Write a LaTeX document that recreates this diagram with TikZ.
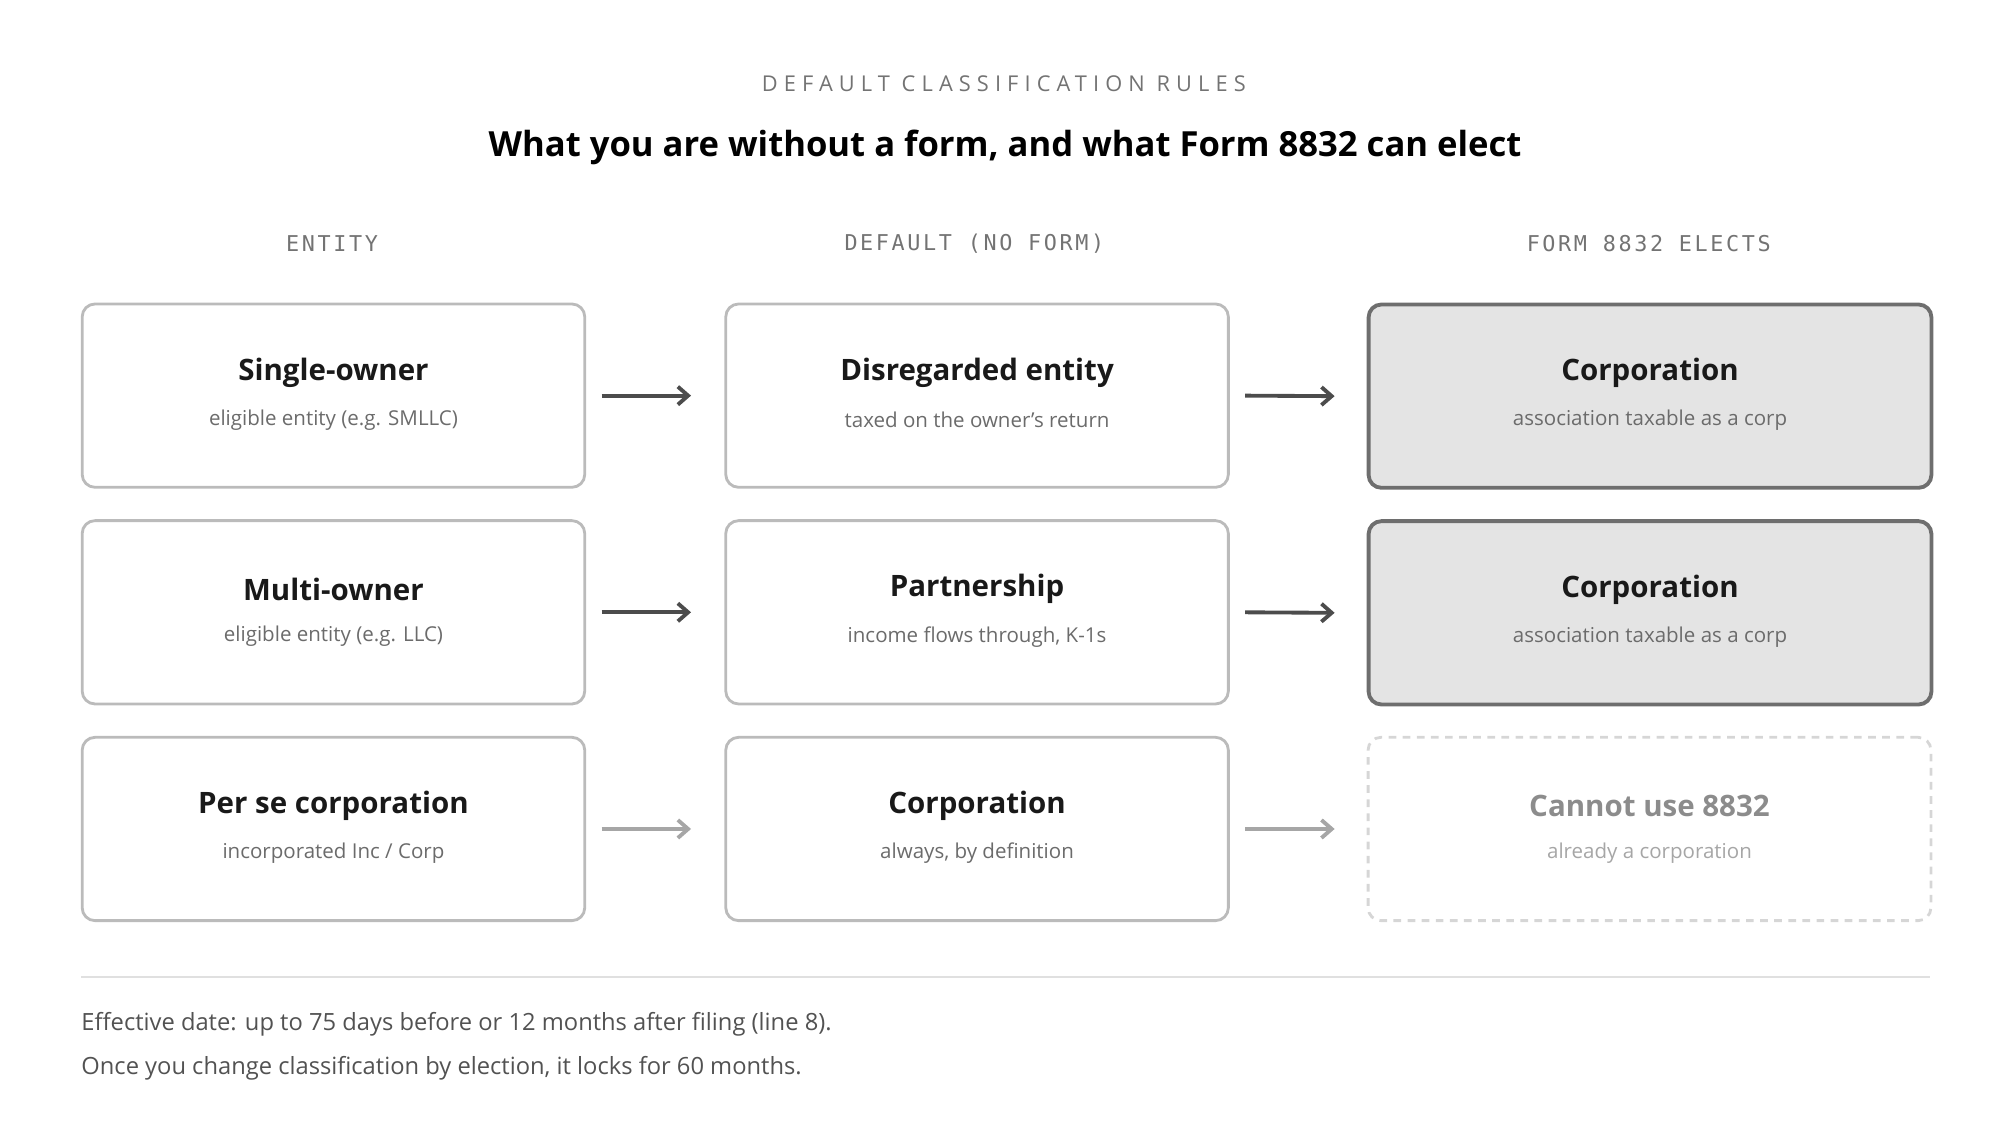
\documentclass[tikz,border=0pt]{standalone}
\usepackage{fontspec}
\setmainfont{Open Sans}
\newfontfamily\monof{DejaVu Sans Mono}[LetterSpace=12]
\newfontfamily\capsf{Open Sans}[LetterSpace=28]
\usetikzlibrary{arrows.meta}
\definecolor{bd}{HTML}{BBBBBB}
\definecolor{bdk}{HTML}{6E6E6E}
\definecolor{fillg}{HTML}{E4E4E4}
\definecolor{sub}{HTML}{6B6B6B}
\begin{document}
\begin{tikzpicture}[x=1pt,y=-1pt,
 box/.style={draw=bd,line width=2.2pt,rounded corners=10pt,minimum width=392pt,minimum height=143pt,anchor=north west,inner sep=0pt},
 dark/.style={draw=bdk,line width=3pt,fill=fillg,minimum width=439pt},
 ghost/.style={draw=bd!60,dash pattern=on 6pt off 5pt,minimum width=439pt},
 ttl/.style={font=\bfseries\fontsize{23}{26}\selectfont,text=black!90},
 sbt/.style={font=\fontsize{16}{19}\selectfont,text=sub},
 arr/.style={-{Straight Barb[length=8pt,width=14pt]},line width=3pt,draw=black!70},
 arrl/.style={arr,draw=black!35},
 hdr/.style={font=\monof\fontsize{17}{20}\selectfont,text=black!55}]
\useasboundingbox (0,0) rectangle (1560,874);
\node[font=\capsf\fontsize{17}{20}\selectfont,text=black!55] (kick) at (783,65) {DEFAULT CLASSIFICATION RULES};
\node[font=\bfseries\fontsize{27}{32}\selectfont,text=black] (title) at (784,115) {What you are without a form, and what Form 8832 can elect};
\node[hdr] (h1) at (259,190) {ENTITY};
\node[hdr] (h2) at (760,190) {DEFAULT (NO FORM)};
\node[hdr] (h3) at (1286,190) {FORM 8832 ELECTS};
% boxes
\node[box] (a1) at (63,236) {};
\node[box] (b1) at (565,236) {};
\node[box,dark] (c1) at (1066,236) {};
\node[box] (a2) at (63,405) {};
\node[box] (b2) at (565,405) {};
\node[box,dark] (c2) at (1066,405) {};
\node[box] (a3) at (63,574) {};
\node[box] (b3) at (565,574) {};
\node[box,ghost] (c3) at (1066,574) {};
\foreach \n/\t/\s in {a1/Single-owner/eligible entity (e.g. SMLLC),b1/Disregarded entity/taxed on the owner's return,c1/Corporation/association taxable as a corp,a2/Multi-owner/eligible entity (e.g. LLC),b2/Partnership/{income flows through, K-1s},c2/Corporation/association taxable as a corp,a3/Per se corporation/incorporated Inc \slash\ Corp,b3/Corporation/{always, by definition}}{
 \node[ttl] (\n t) at ([yshift=18pt]\n.center) {\t};
 \node[sbt] (\n s) at ([yshift=-19pt]\n.center) {\s};
}
\node[ttl,text=black!45] (c3t) at ([yshift=18pt]c3.center) {Cannot use 8832};
\node[sbt,text=black!35] (c3s) at ([yshift=-19pt]c3.center) {already a corporation};
% arrows
\draw[arr] ([xshift=12pt]a1.east) -- ([xshift=-26pt]b1.west);
\draw[arr] ([xshift=12pt]b1.east) -- ([xshift=-25pt]c1.west);
\draw[arr] ([xshift=12pt]a2.east) -- ([xshift=-26pt]b2.west);
\draw[arr] ([xshift=12pt]b2.east) -- ([xshift=-25pt]c2.west);
\draw[arrl] ([xshift=12pt]a3.east) -- ([xshift=-26pt]b3.west);
\draw[arrl] ([xshift=12pt]b3.east) -- ([xshift=-25pt]c3.west);
% footer
\coordinate (r1) at (63,762); \coordinate (r2) at (1505,762);
\draw[black!12,line width=1.5pt] (r1) -- (r2);
\node[anchor=west,font=\fontsize{18.5}{22}\selectfont,text=black!68] (f1) at (60,799) {Effective date: up to 75 days before or 12 months after filing (line 8).};
\node[anchor=west,font=\fontsize{18.5}{22}\selectfont,text=black!68] (f2) at (60,833) {Once you change classification by election, it locks for 60 months.};
\end{tikzpicture}
\end{document}
